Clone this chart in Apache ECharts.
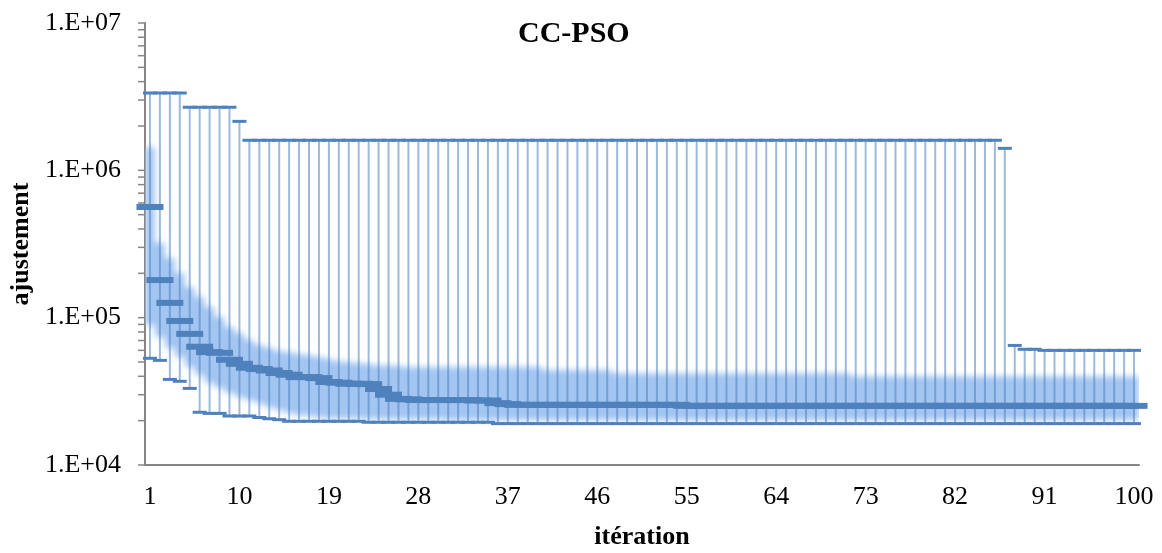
<!DOCTYPE html>
<html>
<head>
<meta charset="utf-8">
<title>CC-PSO</title>
<script src="https://cdn.jsdelivr.net/npm/echarts@6/dist/echarts.min.js"></script>
<style>
  html, body { margin: 0; padding: 0; background: #fff; }
  #chart { width: 1162px; height: 553px; }
</style>
</head>
<body>
<div id="chart"></div>
<script>
// iteration numbers on the category axis
var iterations = [];
for (var i = 1; i <= 100; i++) iterations.push(String(i));

// per-iteration maximum (top dash)
var maxVals = [
  3350000, 3350000, 3350000, 3350000, 2680000, 2680000, 2680000, 2680000, 2680000, 2150000,
  1600000, 1600000, 1600000, 1600000, 1600000, 1600000, 1600000, 1600000, 1600000, 1600000,
  1600000, 1600000, 1600000, 1600000, 1600000, 1600000, 1600000, 1600000, 1600000, 1600000,
  1600000, 1600000, 1600000, 1600000, 1600000, 1600000, 1600000, 1600000, 1600000, 1600000,
  1600000, 1600000, 1600000, 1600000, 1600000, 1600000, 1600000, 1600000, 1600000, 1600000,
  1600000, 1600000, 1600000, 1600000, 1600000, 1600000, 1600000, 1600000, 1600000, 1600000,
  1600000, 1600000, 1600000, 1600000, 1600000, 1600000, 1600000, 1600000, 1600000, 1600000,
  1600000, 1600000, 1600000, 1600000, 1600000, 1600000, 1600000, 1600000, 1600000, 1600000,
  1600000, 1600000, 1600000, 1600000, 1600000, 1600000, 1410000, 64800, 61000, 61000,
  60000, 60000, 60000, 60000, 60000, 60000, 60000, 60000, 60000, 60000
];

// per-iteration minimum (bottom dash)
var minVals = [
  53000, 51300, 38100, 37000, 33100, 22800, 22400, 22400, 21500, 21500,
  21500, 21000, 20600, 20300, 19800, 19800, 19800, 19800, 19800, 19800,
  19800, 19800, 19500, 19500, 19500, 19500, 19500, 19500, 19500, 19500,
  19500, 19500, 19500, 19500, 19500, 19100, 19100, 19100, 19100, 19100,
  19100, 19100, 19100, 19100, 19100, 19100, 19100, 19100, 19100, 19100,
  19100, 19100, 19100, 19100, 19100, 19100, 19100, 19100, 19100, 19100,
  19100, 19100, 19100, 19100, 19100, 19100, 19100, 19100, 19100, 19100,
  19100, 19100, 19100, 19100, 19100, 19100, 19100, 19100, 19100, 19100,
  19100, 19100, 19100, 19100, 19100, 19100, 19100, 19100, 19100, 19100,
  19100, 19100, 19100, 19100, 19100, 19100, 19100, 19100, 19100, 19100
];

// per-iteration mean (thick dash)
var meanVals = [
  564000, 180000, 126000, 95000, 77600, 63500, 58400, 57700, 51800, 48600,
  45700, 44800, 43800, 42100, 41000, 39500, 39500, 38900, 36600, 36200,
  35600, 35600, 35400, 32800, 30000, 28100, 27900, 27600, 27600, 27600,
  27600, 27600, 27600, 27400, 27400, 26300, 25900, 25600, 25600, 25600,
  25600, 25600, 25600, 25600, 25600, 25600, 25600, 25600, 25600, 25600,
  25600, 25600, 25600, 25600, 25200, 25200, 25200, 25200, 25200, 25200,
  25200, 25200, 25200, 25200, 25200, 25200, 25200, 25200, 25200, 25200,
  25200, 25200, 25200, 25200, 25200, 25200, 25200, 25200, 25200, 25200,
  25200, 25200, 25200, 25200, 25200, 25200, 25200, 25200, 25200, 25200,
  25200, 25200, 25200, 25200, 25200, 25200, 25200, 25200, 25200, 25200
];

// soft band: upper and lower edge
var bandHigh = [
  1440000, 321000, 254000, 201000, 161000, 138000, 118000, 101000, 86300, 78600,
  70500, 65200, 62200, 59300, 58400, 56600, 55700, 54000, 52400, 50700,
  49900, 49200, 48400, 47600, 47600, 46900, 46200, 46200, 46200, 46200,
  46200, 46200, 46200, 46200, 46200, 46200, 46200, 46200, 46200, 46200,
  44100, 44100, 44100, 44100, 44100, 44100, 44100, 42000, 42000, 42000,
  42000, 42000, 42000, 42000, 42000, 42000, 42000, 42000, 42000, 42000,
  42000, 42000, 42000, 42000, 42000, 42000, 42000, 42000, 42000, 42000,
  42000, 40000, 40000, 40000, 40000, 40000, 40000, 40000, 40000, 40000,
  40000, 40000, 40000, 40000, 40000, 40000, 40000, 40000, 40000, 40000,
  40000, 40000, 40000, 40000, 40000, 40000, 40000, 40000, 40000, 40000
];
var bandLow = [
  89100, 73900, 62200, 54000, 46200, 40800, 36000, 33300, 30800, 28900,
  27600, 26300, 24700, 23600, 22500, 21800, 21500, 21100, 20800, 20800,
  20800, 20800, 20500, 20500, 20500, 20500, 20500, 20500, 20500, 20500,
  20200, 20200, 20200, 20200, 20200, 20200, 20200, 20200, 20200, 20200,
  20200, 20200, 20200, 20200, 20200, 20200, 20200, 20200, 20200, 20200,
  20200, 20200, 20200, 20200, 20200, 20200, 20200, 20200, 20200, 20200,
  20200, 20200, 20200, 20200, 20200, 20200, 20200, 20200, 20200, 20200,
  20200, 20200, 20200, 20200, 20200, 20200, 20200, 20200, 20200, 20200,
  20200, 20200, 20200, 20200, 20200, 20200, 20200, 20200, 20200, 20200,
  20200, 20200, 20200, 20200, 20200, 20200, 20200, 20200, 20200, 20200
];

var yTickLabels = { 4: '1.E+04', 5: '1.E+05', 6: '1.E+06', 7: '1.E+07' };
var yTicks = [
  10000, 20000, 30000, 40000, 50000, 60000, 70000, 80000, 90000,
  100000, 200000, 300000, 400000, 500000, 600000, 700000, 800000, 900000,
  1000000, 2000000, 3000000, 4000000, 5000000, 6000000, 7000000, 8000000, 9000000,
  10000000
];

var BLUE = '#4f81bd';
var BAND = '#a2c5f1';
var AXIS = '#868686';
var FONT = "'Liberation Serif', 'Times New Roman', serif";
var SHIFT = 3000; // band is drawn off-canvas, only its blurred shadow shows

var chart = echarts.init(document.getElementById('chart'));

var toXY = function(arr) {
  return arr.map(function(v, k) { return [k, v]; });
};

chart.setOption({
  animation: false,
  backgroundColor: '#fff',
  title: {
    text: 'CC-PSO',
    left: 518,
    top: 19,
    padding: 0,
    textStyle: { fontFamily: FONT, fontWeight: 'bold', fontSize: 30, color: '#000' }
  },
  grid: { left: 145, right: 23, top: 23, bottom: 88, outerBoundsMode: 'none', containLabel: false },
  xAxis: {
    type: 'category',
    data: iterations,
    boundaryGap: true,
    name: 'itération',
    nameLocation: 'middle',
    nameGap: 59,
    nameTextStyle: { fontFamily: FONT, fontWeight: 'bold', fontSize: 26, color: '#000' },
    axisLine: { lineStyle: { color: AXIS, width: 2 } },
    axisTick: { interval: 8, length: 7, lineStyle: { color: AXIS, width: 1.5 } },
    axisLabel: { interval: 8, margin: 19, fontFamily: FONT, fontSize: 26, color: '#000' },
    splitLine: { show: false }
  },
  yAxis: {
    type: 'log',
    logBase: 10,
    min: 10000,
    max: 10000000,
    interval: 1,
    name: 'ajustement',
    nameLocation: 'middle',
    nameGap: 111,
    nameTextStyle: { fontFamily: FONT, fontWeight: 'bold', fontSize: 26, color: '#000' },
    axisLine: { show: true, lineStyle: { color: AXIS, width: 2 } },
    axisTick: { show: false },
    axisLabel: {
      margin: 24, fontFamily: FONT, fontSize: 26, color: '#000',
      formatter: function(v) { return yTickLabels[Math.round(Math.log10(v))] || ''; }
    },
    splitLine: { show: false }
  },
  series: [
    {
      // blurred band
      type: 'custom',
      z: 1,
      clip: true,
      silent: true,
      data: [[0, bandHigh[0]]],
      renderItem: function(params, api) {
        var hw = api.size([1, 0], [0, bandHigh[0]])[0] / 2;
        var up = [], dn = [];
        for (var k = 0; k < bandHigh.length; k++) {
          var a = api.coord([k, bandHigh[k]]);
          var b = api.coord([k, bandLow[k]]);
          up.push([a[0] - hw - SHIFT, a[1]], [a[0] + hw - SHIFT, a[1]]);
          dn.unshift([b[0] + hw - SHIFT, b[1]], [b[0] - hw - SHIFT, b[1]]);
        }
        return {
          type: 'polygon',
          shape: { points: up.concat(dn) },
          style: { fill: BAND, shadowColor: BAND, shadowBlur: 6, shadowOffsetX: SHIFT, shadowOffsetY: 0 }
        };
      }
    },
    {
      // high-low lines
      type: 'custom',
      z: 2,
      silent: true,
      data: minVals.map(function(v, k) { return [k, v, maxVals[k]]; }),
      encode: { x: 0, y: [1, 2] },
      renderItem: function(params, api) {
        var p1 = api.coord([api.value(0), api.value(1)]);
        var p2 = api.coord([api.value(0), api.value(2)]);
        return {
          type: 'line',
          shape: { x1: p1[0], y1: p1[1], x2: p2[0], y2: p2[1] },
          style: { stroke: 'rgba(79,129,189,0.55)', lineWidth: 2 }
        };
      }
    },
    {
      // log-axis ticks, major and minor
      type: 'custom',
      z: 2,
      silent: true,
      data: yTicks.map(function(v) { return [0, v]; }),
      renderItem: function(params, api) {
        var p = api.coord([0, api.value(1)]);
        var x0 = params.coordSys.x;
        return {
          type: 'line',
          shape: { x1: x0 - 7, y1: p[1], x2: x0, y2: p[1] },
          style: { stroke: AXIS, lineWidth: 1.5 }
        };
      }
    },
    {
      type: 'scatter', z: 3, silent: true,
      symbol: 'rect', symbolSize: [14, 3],
      itemStyle: { color: BLUE, opacity: 1 },
      data: toXY(maxVals)
    },
    {
      type: 'scatter', z: 3, silent: true,
      symbol: 'rect', symbolSize: [14, 3],
      itemStyle: { color: BLUE, opacity: 1 },
      data: toXY(minVals)
    },
    {
      type: 'scatter', z: 4, silent: true,
      symbol: 'rect', symbolSize: [27, 6],
      itemStyle: { color: BLUE, opacity: 1 },
      data: toXY(meanVals)
    }
  ]
});
</script>
</body>
</html>
